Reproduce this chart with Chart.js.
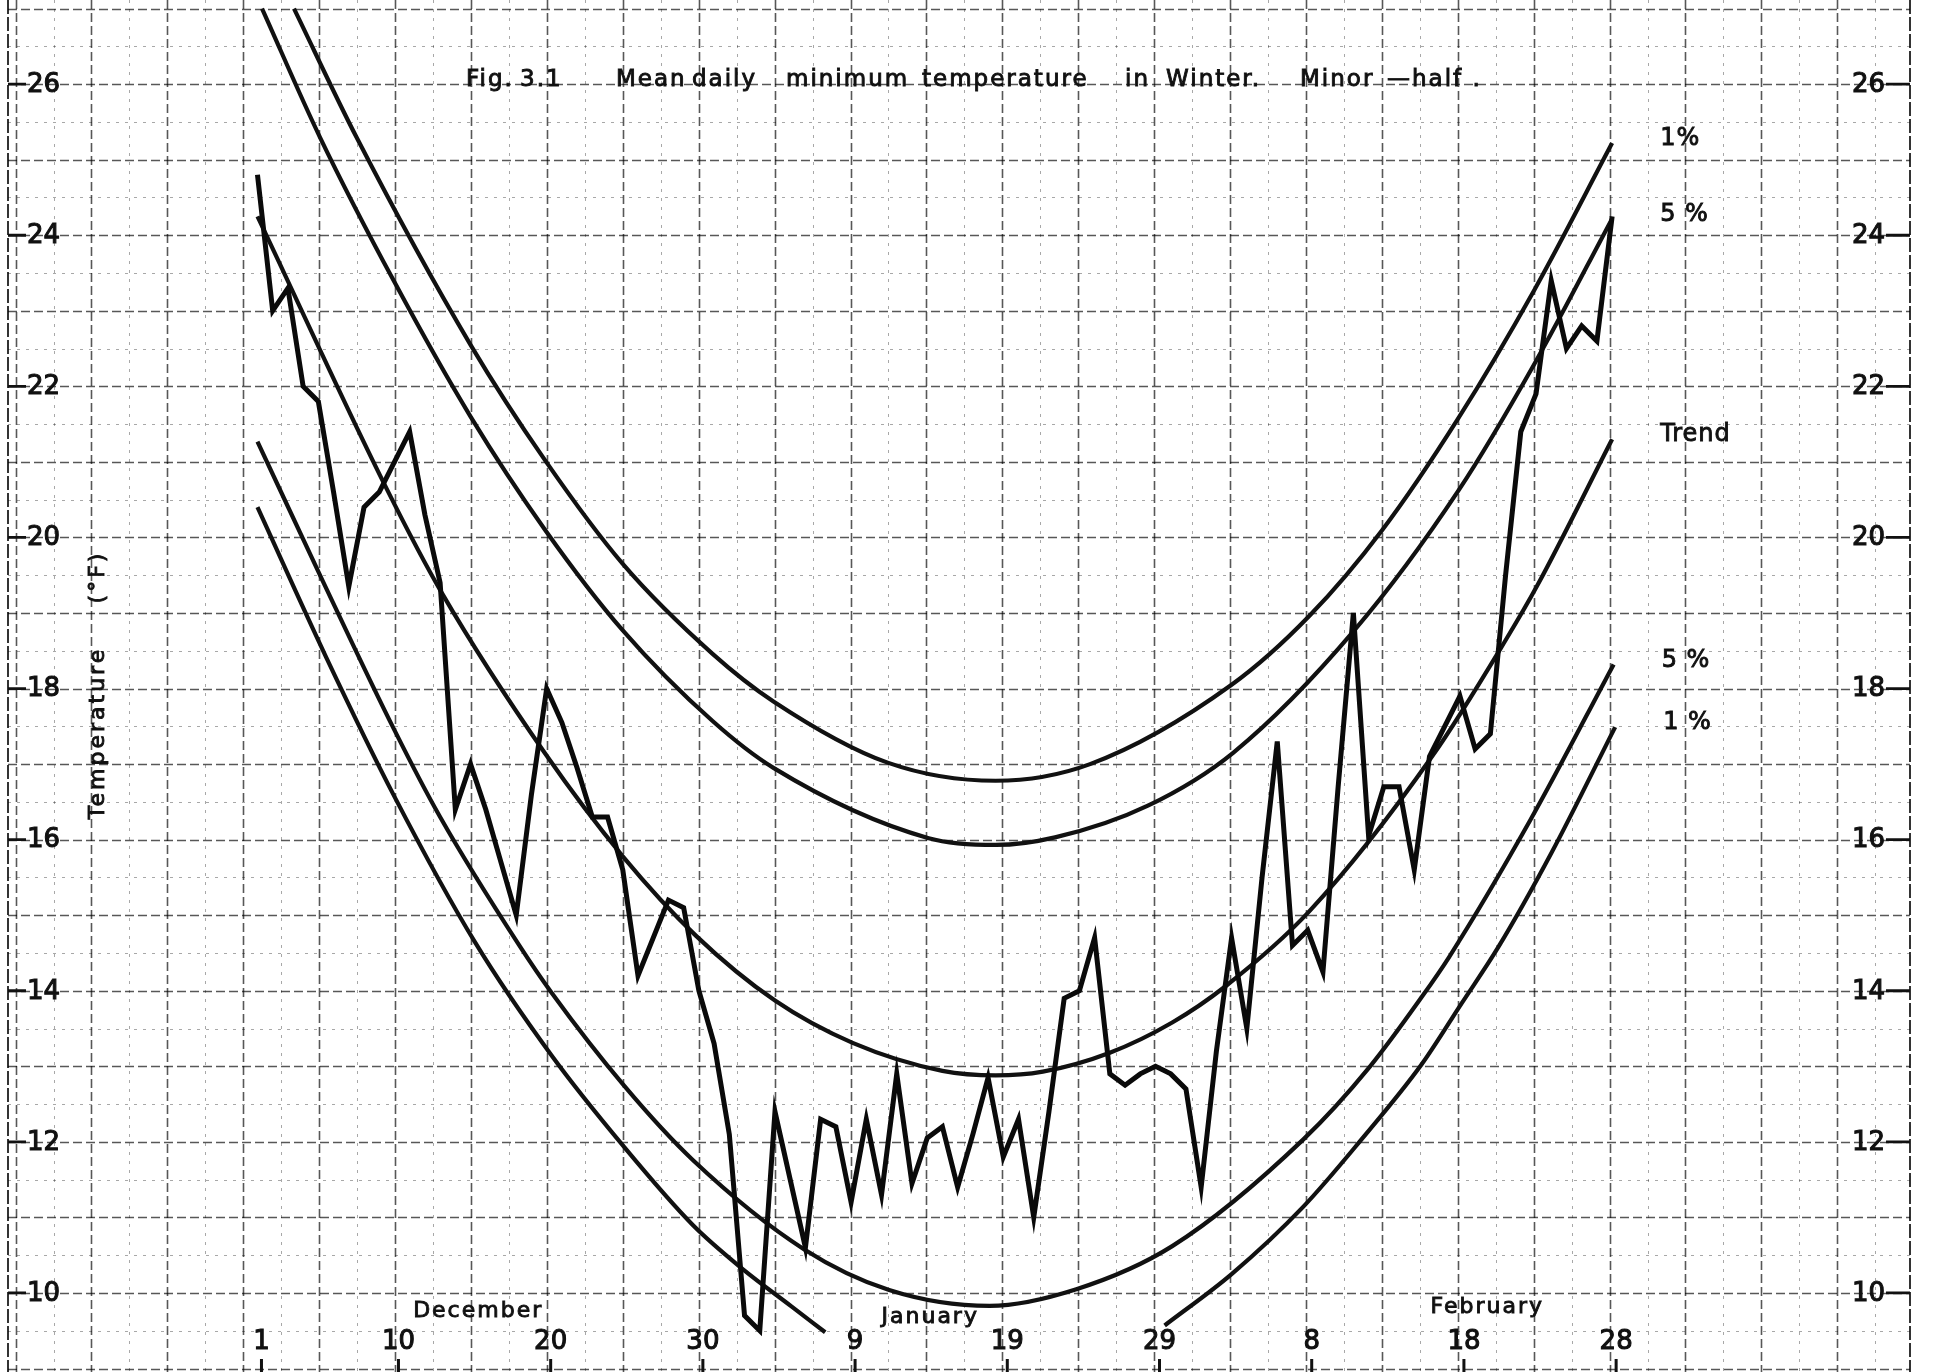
<!DOCTYPE html>
<html>
<head>
<meta charset="utf-8">
<title>Mean daily minimum temperature in Winter</title>
<script src="https://cdn.jsdelivr.net/npm/chart.js@4.4.1/dist/chart.umd.min.js"></script>
<style>
  html, body { margin: 0; padding: 0; background: #fff; }
  canvas { display: block; }
</style>
</head>
<body>
<canvas id="tempChart" width="1933" height="1372"></canvas>
<script>
// Day 0 = December 1, day 89 = February 28
const dayTicks = [0, 9, 19, 29, 39, 49, 59, 69, 79, 89];
const dayLabels = ['1', '10', '20', '30', '9', '19', '29', '8', '18', '28'];
const monthNames = ['December', 'January', 'February'];
const monthCentres = [14.5, 44.2, 80.8];

const yTickValues = [10, 12, 14, 16, 18, 20, 22, 24, 26];

// Mean daily minimum temperature (°F), one value per day
const dailyMin = [
    24.8, 23.0, 23.3, 22.0, 21.8, 20.6, 19.35, 20.4, 20.6, 21.0,
    21.4, 20.3, 19.4, 16.4, 17.0, 16.4, 15.7, 15.0, 16.6, 18.0,
    17.55, 16.95, 16.3, 16.3, 15.6, 14.2, 14.7, 15.2, 15.1, 14.0,
    13.3, 12.1, 9.7, 9.5, 12.4, 11.5, 10.6, 12.3, 12.2, 11.2,
    12.3, 11.3, 12.9, 11.45, 12.05, 12.2, 11.4, 12.1, 12.85, 11.8,
    12.3, 11.0, 12.4, 13.9, 14.0, 14.7, 12.9, 12.75, 12.9, 13.0,
    12.9, 12.7, 11.4, 13.2, 14.7, 13.5, 15.5, 17.3, 14.6, 14.8,
    14.25, 16.7, 19.0, 16.05, 16.7, 16.7, 15.6, 17.1, 17.5, 17.9,
    17.2, 17.4, 19.5, 21.4, 21.9, 23.4, 22.5, 22.8, 22.6, 24.25
];

// Smooth curves as [day, °F]
const upper1 = [
    [2.4, 27.0], [6.5, 25.3], [14.0, 22.55], [18.9, 21.02], [24.0, 19.65],
    [29.9, 18.46], [33.9, 17.83], [41.4, 17.02], [48.5, 16.78], [54.7, 17.0],
    [64.0, 18.05], [69.1, 18.96], [73.9, 20.1], [78.9, 21.58], [83.9, 23.28], [89.0, 25.22]
];
const upper5 = [
    [0.3, 27.0], [4.1, 25.3], [9.0, 23.38], [14.0, 21.6], [18.9, 20.1], [24.0, 18.77],
    [29.9, 17.57], [33.9, 16.95], [44.1, 16.02], [48.5, 15.93], [52.4, 16.03],
    [58.5, 16.45], [64.1, 17.15], [72.1, 18.78], [78.9, 20.62], [83.9, 22.3], [89.0, 24.22]
];
const trend = [
    [0, 24.25], [8.5, 20.64], [12.1, 19.27], [18.9, 17.14], [24.0, 15.78], [28.8, 14.73],
    [34.0, 13.87], [39.1, 13.31], [45.0, 12.94], [48.5, 12.88], [51.6, 12.93], [56.0, 13.18],
    [60.1, 13.58], [63.6, 14.06], [69.1, 15.05], [77.2, 17.11], [82.0, 18.64], [84.1, 19.37], [89.0, 21.3]
];
const lower5 = [
    [0, 21.27], [4.3, 19.42], [9.0, 17.45], [12.0, 16.3], [17.2, 14.6], [19.3, 13.98],
    [24.1, 12.74], [28.6, 11.76], [35.9, 10.58], [41.5, 10.04], [48.1, 9.83], [53.8, 10.05],
    [60.1, 10.62], [68.7, 12.03], [73.1, 13.0], [76.5, 13.92], [78.3, 14.45], [83.6, 16.25], [89.1, 18.32]
];
// runs off the bottom of the sheet in mid-winter, hence the gap
const lower1 = [
    [0, 20.4], [4.5, 18.42], [9.0, 16.57], [14.3, 14.64], [19.3, 13.15], [24.1, 11.93],
    [28.6, 10.9], [31.8, 10.33], [35.1, 9.82], [37.3, 9.48], [48.0, null],
    [59.6, 9.57], [64.0, 10.25], [68.7, 11.14], [72.4, 12.0], [76.5, 13.03], [79.1, 13.83],
    [81.5, 14.57], [85.0, 15.82], [89.2, 17.49]
];
const curveLabels = ['1%', '5 %', 'Trend', '5 %', '1 %'];

const INK = '#111';
const FONT = "'DejaVu Sans', sans-serif";

const toPoints = pairs => pairs.map(([x, y]) => ({ x, y }));

const curve = pairs => ({
    data: toPoints(pairs),
    borderColor: INK,
    borderWidth: 4.2,
    pointRadius: 0,
    fill: false,
    cubicInterpolationMode: 'monotone',
    spanGaps: false,
});

// hand lettering is heavier than the plain font, so fill and outline it
function letter(ctx, text, x, y) {
    ctx.fillText(text, x, y);
    ctx.strokeText(text, x, y);
}

// ruled paper behind the plot
const graphPaper = {
    id: 'graphPaper',
    beforeDraw(chart) {
        const { ctx, chartArea: a, scales: { x, y } } = chart;
        ctx.save();
        ctx.fillStyle = '#fff';
        ctx.fillRect(0, 0, chart.width, chart.height);

        for (let t = 9; t <= 27.01; t += 0.5) {
            const py = Math.round(y.getPixelForValue(t)) + 0.5;
            const major = Math.abs(t - Math.round(t)) < 0.01;
            ctx.strokeStyle = major ? 'rgba(0,0,0,0.66)' : 'rgba(0,0,0,0.34)';
            ctx.lineWidth = major ? 1.6 : 1;
            ctx.setLineDash(major ? [9, 4] : [3, 6]);
            ctx.beginPath();
            ctx.moveTo(a.left, py);
            ctx.lineTo(a.right, py);
            ctx.stroke();
        }

        const step = 4.987 / 2;
        let k = 0;
        for (let d = -15.894; d <= x.max; d += step, k++) {
            const px = Math.round(x.getPixelForValue(d)) + 0.5;
            const major = k % 2 === 0;
            ctx.strokeStyle = major ? 'rgba(0,0,0,0.66)' : 'rgba(0,0,0,0.34)';
            ctx.lineWidth = major ? 1.6 : 1;
            ctx.setLineDash(major ? [9, 4] : [3, 6]);
            ctx.beginPath();
            ctx.moveTo(px, a.top);
            ctx.lineTo(px, a.bottom);
            ctx.stroke();
        }

        // sheet edges
        ctx.setLineDash([14, 3]);
        ctx.strokeStyle = 'rgba(0,0,0,0.8)';
        ctx.lineWidth = 2;
        ctx.beginPath();
        ctx.moveTo(a.left, a.top);
        ctx.lineTo(a.left, a.bottom);
        ctx.moveTo(a.right, a.top);
        ctx.lineTo(a.right, a.bottom);
        ctx.stroke();
        ctx.restore();
    }
};

// lettering: axis numbers, dates, title and curve names
const lettering = {
    id: 'lettering',
    afterDraw(chart) {
        const { ctx, chartArea: a, scales: { x, y } } = chart;
        ctx.save();
        ctx.fillStyle = INK;
        ctx.strokeStyle = INK;
        ctx.setLineDash([]);

        ctx.font = `26px ${FONT}`;
        ctx.textBaseline = 'middle';
        yTickValues.forEach(v => {
            const py = y.getPixelForValue(v);
            ctx.lineWidth = 2.8;
            ctx.beginPath();
            ctx.moveTo(a.left, py);
            ctx.lineTo(a.left + 18, py);
            ctx.moveTo(a.right - 24, py);
            ctx.lineTo(a.right, py);
            ctx.stroke();
            ctx.lineWidth = 1.1;
            ctx.textAlign = 'left';
            letter(ctx, String(v), a.left + 19, py + 1);
            ctx.textAlign = 'right';
            letter(ctx, String(v), a.right - 25, py + 1);
        });

        ctx.textAlign = 'center';
        ctx.textBaseline = 'alphabetic';
        dayTicks.forEach((d, i) => {
            const px = x.getPixelForValue(d) + 4;
            letter(ctx, dayLabels[i], px, 1349);
            ctx.fillRect(px - 1.5, 1359, 3, 13);
        });

        ctx.font = `22px ${FONT}`;
        ctx.letterSpacing = '2px';
        ctx.lineWidth = 0.9;
        const monthBase = [1317, 1323, 1313];
        monthNames.forEach((m, i) => {
            letter(ctx, m, x.getPixelForValue(monthCentres[i]), monthBase[i]);
        });

        // title
        ctx.font = `23px ${FONT}`;
        ctx.textAlign = 'left';
        const titleWords = [
            ['Fig.', 466], ['3.1', 520], ['Mean', 616], ['daily', 692], ['minimum', 786],
            ['temperature', 922], ['in', 1125], ['Winter.', 1166], ['Minor', 1300], ['—half .', 1387]
        ];
        titleWords.forEach(([w, px]) => letter(ctx, w, px, 86));

        // vertical axis title
        ctx.font = `22px ${FONT}`;
        ctx.letterSpacing = '3px';
        ctx.textAlign = 'center';
        [['Temperature', 733], ['(°F)', 577]].forEach(([txt, cy]) => {
            ctx.save();
            ctx.translate(104, cy);
            ctx.rotate(-Math.PI / 2);
            letter(ctx, txt, 0, 0);
            ctx.restore();
        });

        // names at the right-hand ends of the curves
        ctx.font = `24px ${FONT}`;
        ctx.letterSpacing = '1px';
        ctx.textAlign = 'left';
        ctx.textBaseline = 'middle';
        curveLabels.forEach((label, i) => {
            const pts = chart.getDatasetMeta(i + 1).data;
            const end = pts[pts.length - 1];
            letter(ctx, label, end.x + 48, end.y - 4);
        });
        ctx.restore();
    }
};

const tempData = {
    datasets: [
        {
            data: dailyMin.map((t, i) => ({ x: i, y: t })),
            borderColor: '#0a0a0a',
            borderWidth: 5,
            pointRadius: 0,
            tension: 0,
            fill: false,
        },
        curve(upper1),
        curve(upper5),
        curve(trend),
        curve(lower5),
        curve(lower1),
    ]
};

const tempConfig = {
    type: 'line',
    data: tempData,
    options: {
        responsive: false,
        animation: false,
        layout: {
            padding: { left: 8, right: 23, top: 0, bottom: 0 }
        },
        scales: {
            x: { type: 'linear', min: -16.39, max: 108.57, display: false },
            y: { type: 'linear', min: 8.954, max: 27.114, display: false }
        },
        plugins: {
            legend: { display: false },
            tooltip: { enabled: false }
        }
    },
    plugins: [graphPaper, lettering]
};

const tempCtx = document.getElementById('tempChart').getContext('2d');
new Chart(tempCtx, tempConfig);
</script>
</body>
</html>
